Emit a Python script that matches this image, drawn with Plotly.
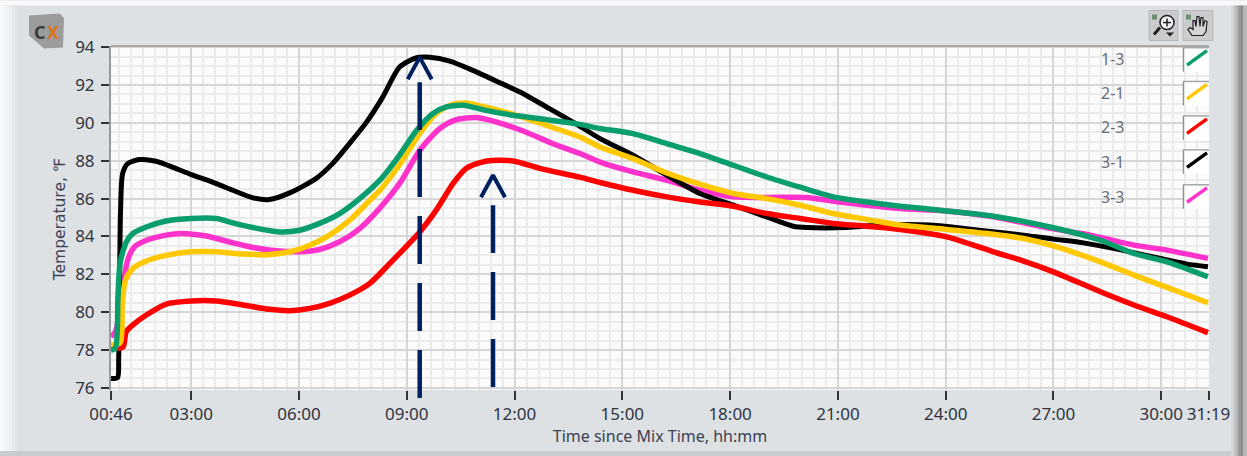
import plotly.graph_objects as go

# ---------- data (time in hours since mix, temperature in deg F) ----------
t_31 = [0.767,0.95,0.98,1.0,1.03,1.09,1.23,1.56,2.02,3.0,3.7,4.16,4.72,5.18,5.74,6.48,6.94,7.41,7.88,8.33,8.8,9.27,9.64,10.2,10.84,11.5,12.15,12.89,13.63,14.38,15.3,16.24,17.16,18.09,19.02,19.76,20.13,21.25,22.18,23.57,25.05,26.17,27.0,27.84,28.67,29.98,30.72,31.3]
v_31 = [76.5,76.55,77.5,80.0,85.2,87.32,87.85,88.06,87.97,87.27,86.79,86.44,86.04,85.95,86.3,87.07,87.86,88.92,90.04,91.36,92.95,93.44,93.47,93.26,92.77,92.2,91.63,90.84,90.04,89.17,88.29,87.23,86.27,85.65,85.03,84.54,84.47,84.47,84.6,84.6,84.3,84.07,83.86,83.66,83.37,82.84,82.54,82.4]

t_13 = [0.767,0.89,0.96,1.02,1.19,1.37,1.75,2.3,3.0,3.7,4.16,4.72,5.46,6.02,6.57,7.13,7.69,8.25,8.8,9.27,9.73,10.1,10.57,11.2,11.96,12.89,13.82,14.38,15.3,16.24,17.16,18.09,19.02,19.95,20.87,21.8,22.73,24.03,25.33,27.0,28.31,29.24,30.16,31.3]
v_13 = [78.0,78.1,80.8,82.6,83.7,84.15,84.5,84.82,84.95,84.95,84.72,84.47,84.24,84.33,84.69,85.21,86.0,86.97,88.3,89.6,90.5,90.84,90.93,90.66,90.4,90.17,89.92,89.7,89.43,88.9,88.38,87.76,87.14,86.6,86.09,85.82,85.6,85.35,85.07,84.46,83.8,83.1,82.66,81.87]

t_21 = [0.767,1.02,1.08,1.17,1.37,1.75,2.3,3.0,3.7,4.44,5.18,5.74,6.3,6.85,7.41,7.97,8.25,8.8,9.36,9.82,10.27,10.66,11.1,11.96,12.89,13.82,14.38,15.3,16.24,17.16,18.09,19.02,19.95,20.87,21.8,22.73,24.03,25.33,26.17,27.0,28.31,29.24,30.16,31.3]
v_21 = [78.27,78.37,80.47,81.7,82.3,82.7,83.0,83.19,83.19,83.07,83.05,83.19,83.54,84.07,84.86,85.91,86.44,87.8,89.44,90.5,90.98,91.05,90.87,90.45,89.87,89.25,88.73,88.11,87.35,86.76,86.27,86.0,85.65,85.21,84.9,84.6,84.37,84.12,83.89,83.5,82.66,81.96,81.31,80.5]

t_23 = [0.767,1.0,1.11,1.19,1.37,1.75,2.3,3.0,3.7,4.44,5.18,5.74,6.3,6.85,7.41,7.97,8.53,9.36,9.82,10.29,10.66,11.22,11.96,12.7,13.82,14.38,15.3,16.24,17.16,18.09,19.02,19.95,20.87,21.8,22.73,24.03,25.33,26.17,27.0,28.31,29.24,30.16,31.3]
v_23 = [78.1,78.1,78.18,78.97,79.32,79.85,80.43,80.59,80.59,80.38,80.15,80.08,80.2,80.47,80.9,81.52,82.58,84.24,85.39,86.8,87.6,87.99,87.99,87.6,87.13,86.85,86.44,86.09,85.82,85.6,85.21,84.95,84.69,84.54,84.37,83.98,83.19,82.7,82.13,81.08,80.38,79.76,78.92]

t_33 = [0.767,0.89,1.09,1.23,1.42,1.75,2.3,2.72,3.42,4.16,4.72,5.37,6.02,6.57,7.13,7.69,8.25,8.8,9.36,9.92,10.38,10.94,11.5,12.24,13.07,13.82,14.38,15.3,16.24,17.16,18.09,19.02,20.13,20.87,21.8,22.73,24.03,25.33,27.0,28.03,29.24,30.16,31.3]
v_33 = [78.7,78.97,81.17,82.75,83.45,83.8,84.07,84.16,84.02,83.66,83.42,83.24,83.19,83.31,83.72,84.42,85.5,86.8,88.55,89.7,90.17,90.28,90.04,89.57,88.9,88.38,87.93,87.41,86.97,86.44,86.09,86.06,86.06,85.86,85.65,85.48,85.35,85.04,84.4,84.07,83.54,83.28,82.84]

legend_names = ["1-3", "2-1", "2-3", "3-1", "3-3"]
legend_colors = ["#0A9E6E", "#FFC800", "#FF0000", "#000000", "#FF33CC"]

x_tick_vals = [46/60, 3, 6, 9, 12, 15, 18, 21, 24, 27, 30, 31 + 19/60]
x_tick_text = ["00:46", "03:00", "06:00", "09:00", "12:00", "15:00", "18:00", "21:00", "24:00", "27:00", "30:00", "31:19"]
y_tick_vals = [76, 78, 80, 82, 84, 86, 88, 90, 92, 94]
y_range = [75.89, 94.06]

arrow_peak_times = [9.36, 11.40]
arrow_base_temps = [75.47, 76.05]
arrow_top_temps = [92.14, 85.65]
arrow_tip_temps = [93.46, 87.23]
arrow_wing_temps = [92.3, 86.07]
arrow_half_width = 0.334

# ---------- geometry of the panel ----------
W, H = 1247, 456
L, R, T, B = 111, 1209, 45.5, 390
def px(x): return (x - L) / (R - L)
def py(y): return (B - y) / (B - T)

FONT = "Noto Sans, DejaVu Sans, sans-serif"
TEXT = "#2E3440"
NAVY = "#002060"

fig = go.Figure()

# drawing order: later series sit on earlier ones
for name, t, v, col, w in [
    ("3-3", t_33, v_33, legend_colors[4], 5.5),
    ("3-1", t_31, v_31, legend_colors[3], 5),
    ("2-3", t_23, v_23, legend_colors[2], 5.5),
    ("2-1", t_21, v_21, legend_colors[1], 5.5),
    ("1-3", t_13, v_13, legend_colors[0], 5.5),
]:
    fig.add_trace(go.Scatter(x=t, y=v, mode="lines", name=name, showlegend=False,
                             line=dict(color=col, width=w, shape="spline", smoothing=0.7)))

shapes, ann = [], []
for tp, base, top, tip, wing in zip(arrow_peak_times, arrow_base_temps, arrow_top_temps,
                                    arrow_tip_temps, arrow_wing_temps):
    fig.add_trace(go.Scatter(x=[tp, tp], y=[base, top], mode="lines", showlegend=False,
                             line=dict(color=NAVY, width=4.5, dash="48px,19px")))
    fig.add_trace(go.Scatter(x=[tp - arrow_half_width, tp, tp + arrow_half_width], y=[wing, tip, wing],
                             mode="lines", showlegend=False,
                             line=dict(color=NAVY, width=4)))
    # a trace's line is clipped at the axis, so the part of the stem below it is a shape
    if base < y_range[0]:
        frac = (base - y_range[0]) / (y_range[1] - y_range[0])
        shapes.append(dict(type="line", xref="x", yref="paper", x0=tp, x1=tp, y0=frac, y1=0, layer="above",
                           line=dict(color=NAVY, width=4.5)))

def rect(x0, y0, x1, y1, fill, line=None, lw=0, layer="below"):
    shapes.append(dict(type="rect", xref="paper", yref="paper", layer=layer,
                       x0=px(x0), x1=px(x1), y0=py(y0), y1=py(y1), fillcolor=fill,
                       line=dict(color=line or fill, width=lw)))
def seg(x0, y0, x1, y1, col, lw, layer="above"):
    shapes.append(dict(type="line", xref="paper", yref="paper", layer=layer,
                       x0=px(x0), x1=px(x1), y0=py(y0), y1=py(y1), line=dict(color=col, width=lw)))
def text(x, y, s, size, col=TEXT, angle=0, anchor="center", family=FONT):
    ann.append(dict(xref="paper", yref="paper", x=px(x), y=py(y), text=s, showarrow=False,
                    xanchor=anchor, yanchor="middle", textangle=angle, font=dict(size=size, color=col, family=family)))

# panel chrome
rect(0, 0, W, 5, "#F7F8F9")
for i, c in enumerate(["#F8FAFC", "#F3F6F9", "#EFF2F5", "#EBEEF1", "#E6E9EC", "#E2E5E8"]):
    rect(i * 3, 5, (i + 1) * 3, 452, c)
rect(0, 451, W, 456, "#C9CCCF")
for i, c in enumerate(["#D6D8DB", "#CACCCE", "#BABCBE", "#A8A9AB", "#949596", "#8A8B8C"]):
    rect(1231 + i * 2, 5, 1233 + i * 2, 456, c)
rect(1243, 5, W, 456, "#B6B8BA")

# CX logo
shapes.append(dict(type="path", xref="paper", yref="paper", layer="below", fillcolor="#9C9C9C", line=dict(width=0),
                   path=f"M {px(29)} {py(15)} L {px(60)} {py(13)} L {px(64)} {py(18)} L {px(63)} {py(47)} "
                        f"L {px(44)} {py(48)} L {px(29)} {py(35)} Z"))
text(40, 31, "<b>C</b>", 18, "#3A3A3A")
text(53, 31, "<b>X</b>", 18, "#D9761E")

# toolbar buttons
for x0, x1 in [(1149, 1178), (1183, 1213)]:
    rect(x0, 10, x1, 40, "#C9CBCD", "#B5B7B9", 1)
    rect(x0 + 3, 14, x0 + 8, 19, "#6E8F6E")
shapes.append(dict(type="circle", xref="paper", yref="paper", layer="above", fillcolor="#F2F4FA",
                   line=dict(color="#202020", width=1.5),
                   x0=px(1160), x1=px(1174), y0=py(15), y1=py(29)))
seg(1160, 27, 1154, 34, "#202020", 3)
seg(1163, 22, 1171, 22, "#202020", 1.5)
seg(1167, 18, 1167, 26, "#202020", 1.5)
shapes.append(dict(type="path", xref="paper", yref="paper", layer="above", fillcolor="#202020", line=dict(width=0),
                   path=f"M {px(1166)} {py(32)} L {px(1174)} {py(32)} L {px(1170)} {py(36)} Z"))
hand = [(1192, 35), (1188, 29), (1190, 27), (1193, 29), (1193, 20), (1195, 20), (1196, 26), (1197, 16), (1199, 16),
        (1200, 26), (1201, 17), (1203, 17), (1203, 26), (1205, 20), (1207, 21), (1206, 31), (1203, 35)]
shapes.append(dict(type="path", xref="paper", yref="paper", layer="above", fillcolor="#D4D5D6",
                   line=dict(color="#202020", width=1.2),
                   path="M " + " L ".join(f"{px(a)} {py(b)}" for a, b in hand) + " Z"))

# y axis title
text(60, 219, "Temperature, ℉", 15.5, "#3B4252", angle=-90, family="DejaVu Sans, sans-serif")

# custom legend: label plus a diagonal swatch in a small box
legend_tops = [46.7, 80.5, 115, 149, 184]
legend_text_y = [59, 93, 127, 162, 197]
for name, col, top, ty in zip(legend_names, legend_colors, legend_tops, legend_text_y):
    text(1112, ty, name, 16, "#6A6E73")
    rect(1183, top, 1209, top + 24.5, "#FFFFFF", layer="above")
    seg(1183.5, top, 1183.5, top + 24.5, "#8E9092", 1.5)
    seg(1183, top + 0.5, 1209, top + 0.5, "#A5A7A9", 1.5)
    seg(1187, top + 18, 1207, top + 3.5, col, 3.5)

seg(L, T, R, T, "#A8A8A8", 2)

fig.update_layout(
    width=W, height=H, autosize=False,
    margin=dict(l=L, r=W - R, t=T, b=H - B, pad=0),
    paper_bgcolor="#DEE1E4", plot_bgcolor="#FBFBFB",
    font=dict(family=FONT, size=17, color=TEXT),
    shapes=shapes, annotations=ann, showlegend=False,
    xaxis=dict(range=[46 / 60, 31.33], tickmode="array", tickvals=x_tick_vals, ticktext=x_tick_text,
               ticks="outside", ticklen=9, tickwidth=1.5, tickcolor="#333333", tickfont=dict(size=17),
               showgrid=True, gridcolor="#D6D6D6", gridwidth=2, zeroline=False, showline=False,
               minor=dict(tick0=0, dtick=1 / 3, showgrid=True, gridcolor="#EBEBEB", gridwidth=2, ticks=""),
               title=dict(text="Time since Mix Time, hh:mm", standoff=4, font=dict(size=16, color="#3B4252"))),
    yaxis=dict(range=y_range, tickmode="array", tickvals=y_tick_vals,
               ticks="outside", ticklen=8, tickwidth=1.5, tickcolor="#333333", tickfont=dict(size=17),
               ticklabelstandoff=3,
               showgrid=True, gridcolor="#D6D6D6", gridwidth=2, zeroline=False,
               showline=True, linecolor="#9A9A9A", linewidth=2, mirror=False,
               minor=dict(tick0=0, dtick=0.5, showgrid=True, gridcolor="#EBEBEB", gridwidth=2, ticks="")),
)

fig.write_html("out.html", config=dict(displayModeBar=False),
               post_script="document.body.style.margin='0';document.body.style.overflow='hidden';")
